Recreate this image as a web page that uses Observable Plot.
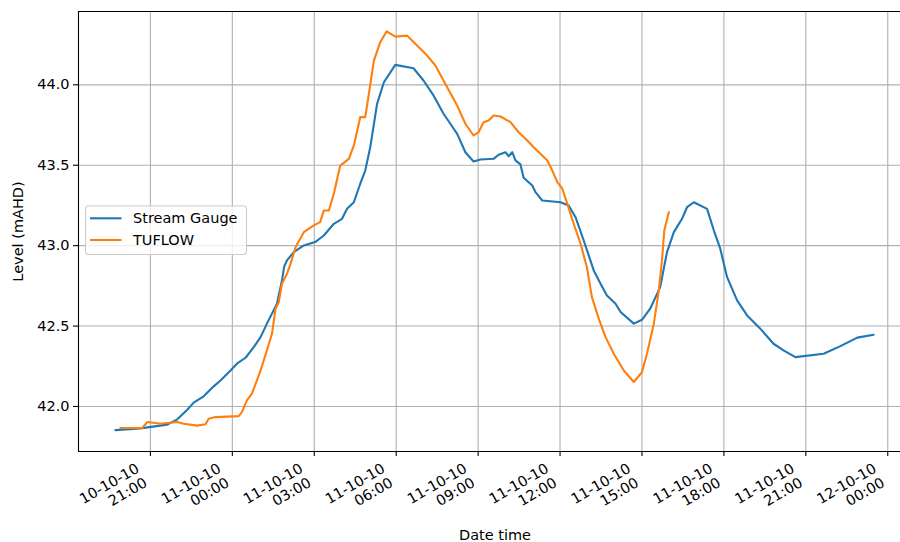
<!DOCTYPE html>
<html>
<head>
<meta charset="utf-8">
<script src="https://cdn.jsdelivr.net/npm/d3@7"></script>
<script src="https://cdn.jsdelivr.net/npm/@observablehq/plot@0.6"></script>
<style>
  html, body { margin: 0; padding: 0; background: #fff; }
  #chart svg { display: block; }
</style>
</head>
<body>
<div id="chart"></div>
<script>
// Stream gauge record (observed water level)
const gaugeTimes = [
  "2010-10-10T19:43","2010-10-10T20:38","2010-10-10T21:37","2010-10-10T21:59","2010-10-10T22:21",
  "2010-10-10T22:35","2010-10-10T22:57","2010-10-10T23:19","2010-10-10T23:34","2010-10-10T23:56",
  "2010-10-11T00:10","2010-10-11T00:29","2010-10-11T00:47","2010-10-11T01:02","2010-10-11T01:16",
  "2010-10-11T01:38","2010-10-11T01:49","2010-10-11T01:54","2010-10-11T02:00","2010-10-11T02:15",
  "2010-10-11T02:37","2010-10-11T03:02","2010-10-11T03:21","2010-10-11T03:43","2010-10-11T04:01",
  "2010-10-11T04:12","2010-10-11T04:27","2010-10-11T04:41","2010-10-11T04:52","2010-10-11T05:03",
  "2010-10-11T05:18","2010-10-11T05:33","2010-10-11T05:58","2010-10-11T06:38","2010-10-11T07:00",
  "2010-10-11T07:22","2010-10-11T07:44","2010-10-11T07:59","2010-10-11T08:14","2010-10-11T08:32",
  "2010-10-11T08:50","2010-10-11T09:05","2010-10-11T09:34","2010-10-11T09:45","2010-10-11T10:00",
  "2010-10-11T10:07","2010-10-11T10:15","2010-10-11T10:22","2010-10-11T10:33","2010-10-11T10:40",
  "2010-10-11T10:59","2010-10-11T11:06","2010-10-11T11:21","2010-10-11T12:01","2010-10-11T12:19",
  "2010-10-11T12:34","2010-10-11T12:52","2010-10-11T13:14","2010-10-11T13:29","2010-10-11T13:43",
  "2010-10-11T14:02","2010-10-11T14:13","2010-10-11T14:42","2010-10-11T15:00","2010-10-11T15:18",
  "2010-10-11T15:40","2010-10-11T15:55","2010-10-11T16:10","2010-10-11T16:28","2010-10-11T16:39",
  "2010-10-11T16:54","2010-10-11T17:23","2010-10-11T17:38","2010-10-11T17:52","2010-10-11T18:07",
  "2010-10-11T18:29","2010-10-11T18:51","2010-10-11T19:20","2010-10-11T19:49","2010-10-11T20:11",
  "2010-10-11T20:37","2010-10-11T21:39","2010-10-11T22:16","2010-10-11T22:53","2010-10-11T23:29"
];
const gaugeLevels = [
  41.853, 41.864, 41.887, 41.920, 41.980,
  42.024, 42.063, 42.125, 42.162, 42.224,
  42.266, 42.303, 42.369, 42.431, 42.515,
  42.639, 42.784, 42.871, 42.908, 42.960,
  43.001, 43.022, 43.063, 43.136, 43.167,
  43.229, 43.270, 43.385, 43.467, 43.612,
  43.882, 44.016, 44.124, 44.103, 44.027,
  43.934, 43.820, 43.758, 43.695, 43.581,
  43.523, 43.536, 43.540, 43.565, 43.581,
  43.556, 43.581, 43.530, 43.505, 43.422,
  43.374, 43.333, 43.281, 43.270, 43.250,
  43.177, 43.032, 42.846, 42.763, 42.690,
  42.639, 42.587, 42.515, 42.539, 42.608,
  42.742, 42.960, 43.084, 43.167, 43.239,
  43.270, 43.229, 43.094, 42.981, 42.804,
  42.660, 42.566, 42.484, 42.390, 42.349,
  42.307, 42.328, 42.375, 42.428, 42.446
];

// TUFLOW model output
const tuflowTimes = [
  "2010-10-10T19:54","2010-10-10T20:42","2010-10-10T20:53","2010-10-10T21:11","2010-10-10T21:22",
  "2010-10-10T21:59","2010-10-10T22:13","2010-10-10T22:43","2010-10-10T23:01","2010-10-10T23:08",
  "2010-10-10T23:23","2010-10-11T00:14","2010-10-11T00:21","2010-10-11T00:32","2010-10-11T00:43",
  "2010-10-11T00:54","2010-10-11T01:02","2010-10-11T01:16","2010-10-11T01:27","2010-10-11T01:35",
  "2010-10-11T01:42","2010-10-11T01:49","2010-10-11T02:00","2010-10-11T02:08","2010-10-11T02:19",
  "2010-10-11T02:37","2010-10-11T02:59","2010-10-11T03:13","2010-10-11T03:21","2010-10-11T03:32",
  "2010-10-11T03:43","2010-10-11T03:57","2010-10-11T04:16","2010-10-11T04:27","2010-10-11T04:41",
  "2010-10-11T04:52","2010-10-11T05:00","2010-10-11T05:11","2010-10-11T05:25","2010-10-11T05:39",
  "2010-10-11T05:58","2010-10-11T06:24","2010-10-11T06:42","2010-10-11T07:08","2010-10-11T07:26",
  "2010-10-11T07:52","2010-10-11T08:14","2010-10-11T08:32","2010-10-11T08:50","2010-10-11T09:01",
  "2010-10-11T09:12","2010-10-11T09:23","2010-10-11T09:34","2010-10-11T09:49","2010-10-11T10:11",
  "2010-10-11T10:29","2010-10-11T10:48","2010-10-11T11:02","2010-10-11T11:32","2010-10-11T11:43",
  "2010-10-11T11:54","2010-10-11T12:05","2010-10-11T12:16","2010-10-11T12:30","2010-10-11T12:45",
  "2010-10-11T12:59","2010-10-11T13:10","2010-10-11T13:25","2010-10-11T13:40","2010-10-11T13:58",
  "2010-10-11T14:20","2010-10-11T14:42","2010-10-11T15:00","2010-10-11T15:11","2010-10-11T15:26",
  "2010-10-11T15:37","2010-10-11T15:44","2010-10-11T15:49","2010-10-11T15:59"
];
const tuflowLevels = [
  41.866, 41.866, 41.903, 41.897, 41.893,
  41.903, 41.893, 41.881, 41.889, 41.924,
  41.934, 41.940, 41.965, 42.038, 42.080,
  42.162, 42.224, 42.349, 42.452, 42.608,
  42.649, 42.763, 42.825, 42.888, 42.991,
  43.084, 43.126, 43.146, 43.219, 43.219,
  43.323, 43.498, 43.540, 43.623, 43.799,
  43.799, 43.944, 44.151, 44.265, 44.333,
  44.300, 44.306, 44.255, 44.182, 44.120,
  43.985, 43.871, 43.758, 43.685, 43.705,
  43.768, 43.778, 43.809, 43.803, 43.768,
  43.705, 43.654, 43.612, 43.530, 43.467,
  43.395, 43.354, 43.260, 43.136, 43.012,
  42.866, 42.680, 42.546, 42.431, 42.328,
  42.224, 42.152, 42.214, 42.328, 42.515,
  42.722, 42.908, 43.094, 43.208
];

const seriesNames = ["Stream Gauge", "TUFLOW"];

// Axis ticks and their labels
const xTicks = [
  "2010-10-10T21:00","2010-10-11T00:00","2010-10-11T03:00","2010-10-11T06:00","2010-10-11T09:00",
  "2010-10-11T12:00","2010-10-11T15:00","2010-10-11T18:00","2010-10-11T21:00","2010-10-12T00:00"
];
const xTickLabels = [
  "10-10-10\n21:00","11-10-10\n00:00","11-10-10\n03:00","11-10-10\n06:00","11-10-10\n09:00",
  "11-10-10\n12:00","11-10-10\n15:00","11-10-10\n18:00","11-10-10\n21:00","12-10-10\n00:00"
];
const yTicks = [42.0, 42.5, 43.0, 43.5, 44.0];
const yTickLabels = ["42.0", "42.5", "43.0", "43.5", "44.0"];
const xDomain = ["2010-10-10T18:22", "2010-10-12T00:28"];
const yDomain = [41.72, 44.456];
const xTitle = "Date time";
const yTitle = "Level (mAHD)";

const palette = ["#1f77b4", "#ff7f0e"];
const parse = (s) => new Date(s + ":00Z");

const rows = [
  ...gaugeTimes.map((t, i) => ({series: seriesNames[0], time: parse(t), level: gaugeLevels[i]})),
  ...tuflowTimes.map((t, i) => ({series: seriesNames[1], time: parse(t), level: tuflowLevels[i]}))
];
const tickDates = xTicks.map(parse);

const gridStyle = {stroke: "#b0b0b0", strokeOpacity: 1, strokeWidth: 1.1};
const spine = {stroke: "#000", strokeWidth: 1.1};

const chart = Plot.plot({
  width: 900,
  height: 542,
  marginLeft: 78,
  marginRight: 0,
  marginTop: 11,
  marginBottom: 91,
  style: {fontFamily: "'DejaVu Sans', sans-serif", fontSize: "14.5px", color: "#000", background: "#fff", overflow: "visible"},
  x: {type: "utc", domain: xDomain.map(parse)},
  y: {domain: yDomain},
  color: {domain: seriesNames, range: palette},
  marks: [
    Plot.gridX(tickDates, gridStyle),
    Plot.gridY(yTicks, gridStyle),
    Plot.line(rows, {x: "time", y: "level", z: "series", stroke: "series", strokeWidth: 2.1, strokeLinejoin: "round", clip: true}),
    Plot.frame({anchor: "left", ...spine}),
    Plot.frame({anchor: "top", ...spine}),
    Plot.frame({anchor: "bottom", ...spine}),
    Plot.axisX(tickDates, {tickSize: 5, tickFormat: () => "", label: null, strokeWidth: 1.1}),
    Plot.text(tickDates, {
      x: (d) => d,
      text: (d, i) => xTickLabels[i],
      frameAnchor: "bottom",
      dx: -16, dy: 10,
      rotate: -30,
      textAnchor: "end",
      lineAnchor: "top",
      lineHeight: 1.12,
      fill: "#000"
    }),
    Plot.axisY(yTicks, {tickSize: 5, tickPadding: 4, tickFormat: (d, i) => yTickLabels[i], label: null, strokeWidth: 1.1}),
    Plot.text([yTitle], {text: (d) => d, frameAnchor: "left", dx: -60, rotate: -90, textAnchor: "middle", lineAnchor: "middle", fill: "#000"}),
    Plot.text([xTitle], {text: (d) => d, frameAnchor: "bottom", dx: 5.5, dy: 84, textAnchor: "middle", lineAnchor: "middle", fill: "#000"})
  ]
});

// Legend box in the upper-left of the plot area
const svg = d3.select(chart);
const legend = svg.append("g")
  .attr("font-family", "'DejaVu Sans', sans-serif")
  .attr("font-size", "14.5px")
  .attr("text-anchor", "start");
legend.append("rect")
  .attr("x", 85.5).attr("y", 206).attr("width", 161).attr("height", 48.5)
  .attr("rx", 3).attr("fill", "#fff").attr("fill-opacity", 0.8)
  .attr("stroke", "#cccccc").attr("stroke-width", 1.1);
seriesNames.forEach((name, i) => {
  const y = 218.3 + i * 21.7;
  legend.append("line")
    .attr("x1", 90).attr("x2", 121.5).attr("y1", y).attr("y2", y)
    .attr("stroke", palette[i]).attr("stroke-width", 2.1);
  legend.append("text")
    .attr("x", 133).attr("y", y).attr("dy", "0.35em")
    .attr("text-anchor", "start")
    .attr("fill", "#000").text(name);
});

document.getElementById("chart").appendChild(chart);
</script>
</body>
</html>
